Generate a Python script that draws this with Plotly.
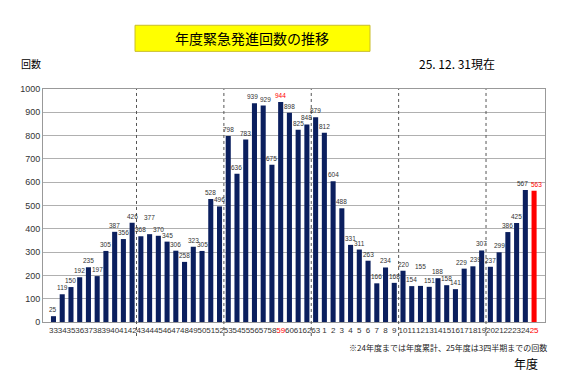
import plotly.graph_objects as go

years = ["33", "34", "35", "36", "37", "38", "39", "40", "41", "42",
         "43", "44", "45", "46", "47", "48", "49", "50", "51", "52",
         "53", "54", "55", "56", "57", "58", "59", "60", "61", "62",
         "63", "1", "2", "3", "4", "5", "6", "7", "8", "9",
         "10", "11", "12", "13", "14", "15", "16", "17", "18", "19",
         "20", "21", "22", "23", "24", "25"]
counts = [25, 119, 150, 192, 235, 197, 305, 387, 356, 426,
          368, 377, 370, 345, 306, 258, 323, 305, 528, 496,
          798, 636, 783, 939, 929, 675, 944, 898, 825, 848,
          879, 812, 604, 488, 331, 311, 263, 166, 234, 168,
          220, 154, 155, 151, 188, 158, 141, 229, 239, 307,
          237, 299, 386, 425, 567, 563]
highlight_years = ["59", "25"]
y_ticks = [0, 100, 200, 300, 400, 500, 600, 700, 800, 900, 1000]

NAVY = "#0b1f5e"
RED = "#ff0000"
idx = list(range(len(years)))
bar_colors = [NAVY] * len(years)
bar_colors[-1] = RED
tick_text = [f'<span style="color:{RED}">{y}</span>' if y in highlight_years else y for y in years]

fig = go.Figure()
fig.add_trace(go.Bar(
    x=idx, y=counts, marker=dict(color=bar_colors, line=dict(width=0)),
    hoverinfo="skip",
))

# value labels; a few nudged apart (as in the original) so neighbours do not clash
raise_px = {11: 10, 42: 13}
side_px = {23: -2, 24: 2, 47: -2.5, 48: 2.5, 54: -2.5, 55: 2.5}
annotations = []
for i, v in enumerate(counts):
    annotations.append(dict(
        x=i, y=v, xref="x", yref="y", text=str(v), showarrow=False,
        xanchor="center", yanchor="bottom", yshift=1 + raise_px.get(i, 0),
        xshift=side_px.get(i, 0),
        font=dict(size=6.5, family="Liberation Sans",
                  color=RED if years[i] in highlight_years else "#333333"),
    ))

shapes = []
# dotted dividers: after 42, 52, 62 (Showa) and 9, 19 (Heisei)
div_positions = [9.5, 19.5, 29.5, 39.5, 49.5]
for xp in div_positions:
    shapes.append(dict(type="line", xref="x", yref="paper", x0=xp, x1=xp, y0=-0.06, y1=1,
                       line=dict(color="#555555", width=1, dash="dot"), layer="above"))
# title box
shapes.append(dict(type="rect", xref="paper", yref="paper", x0=0.1833, x1=0.6514, y0=1.1615, y1=1.2735,
                   fillcolor="#ffff00", line=dict(color="#c9bd2a", width=1)))

annotations += [
    dict(text="年度緊急発進回数の推移", xref="paper", yref="paper", x=0.4173, y=1.2175,
         xanchor="center", yanchor="middle", showarrow=False,
         font=dict(size=14, color="#000000", family="Noto Sans CJK JP")),
    dict(text="回数", xref="paper", yref="paper", x=-0.047, y=1.11, xanchor="left", yanchor="middle",
         showarrow=False, font=dict(size=10, color="#000000", family="Noto Sans CJK JP")),
    dict(text="25. 12. 31現在", xref="paper", yref="paper", x=0.905, y=1.11, xanchor="right",
         yanchor="middle", showarrow=False, font=dict(size=12, color="#000000", family="Noto Sans CJK JP")),
    dict(text="※24年度までは年度累計、25年度は3四半期までの回数", xref="paper", yref="paper",
         x=1.008, y=-0.108, xanchor="right", yanchor="middle", showarrow=False,
         font=dict(size=8, color="#222222", family="Noto Sans CJK JP")),
    dict(text="年度", xref="paper", yref="paper", x=0.990, y=-0.18, xanchor="right", yanchor="middle",
         showarrow=False, font=dict(size=12, color="#000000", family="Noto Sans CJK JP")),
]

fig.update_layout(
    width=570, height=381,
    margin=dict(l=43, r=25, t=89, b=59),
    paper_bgcolor="white", plot_bgcolor="white",
    bargap=0.42, showlegend=False,
    shapes=shapes, annotations=annotations,
    font=dict(family="Liberation Sans", color="#333333"),
    xaxis=dict(range=[-1.2, 56.25], tickmode="array", tickvals=idx, ticktext=tick_text,
               tickangle=0, tickfont=dict(size=8, color="#333333"), showgrid=False,
               showline=True, linecolor="#999999", mirror=True, ticks="", zeroline=False,
               fixedrange=True, automargin=False),
    yaxis=dict(range=[0, 1000], tickvals=y_ticks, tickfont=dict(size=9, color="#333333"),
               showgrid=True, gridcolor="#b0b0b0", gridwidth=1, showline=True,
               linecolor="#999999", mirror=True, zeroline=False, ticks="", fixedrange=True,
               automargin=False),
)

fig.write_html("out.html", config={"displayModeBar": False},
               post_script="document.body.style.margin='0';")
